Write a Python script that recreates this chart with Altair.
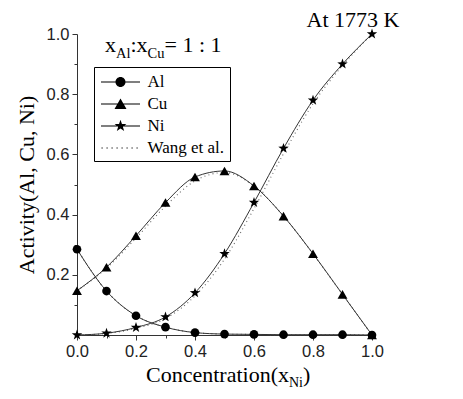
import altair as alt
import pandas as pd

# ---------------- data ----------------
x_vals = [0.0, 0.1, 0.2, 0.3, 0.4, 0.5, 0.6, 0.7, 0.8, 0.9, 1.0]
al_vals = [0.285, 0.146, 0.064, 0.026, 0.008, 0.003, 0.002, 0.001, 0.001, 0.001, 0.0]
cu_vals = [0.147, 0.225, 0.330, 0.440, 0.525, 0.545, 0.495, 0.395, 0.270, 0.135, 0.0]
ni_vals = [0.0, 0.006, 0.025, 0.060, 0.140, 0.270, 0.440, 0.620, 0.780, 0.900, 1.0]
wang_al = [0.285, 0.146, 0.064, 0.026, 0.008, 0.003, 0.002, 0.001, 0.001, 0.001, 0.0]
wang_cu = [0.147, 0.222, 0.322, 0.428, 0.512, 0.540, 0.495, 0.395, 0.270, 0.135, 0.0]
wang_ni = [0.0, 0.005, 0.022, 0.055, 0.130, 0.252, 0.420, 0.602, 0.768, 0.895, 1.0]
series = ["Al", "Cu", "Ni"]
legend_items = ["Al", "Cu", "Ni", "Wang et al."]
x_ticks = [0.0, 0.1, 0.2, 0.3, 0.4, 0.5, 0.6, 0.7, 0.8, 0.9, 1.0]
y_ticks = [0.1, 0.2, 0.3, 0.4, 0.5, 0.6, 0.7, 0.8, 0.9, 1.0]
temp_label = "At 1773 K"
ratio_parts = ["x", "Al", ":x", "Cu", "= 1 : 1"]
xtitle_parts = ["Concentration(x", "Ni", ")"]
ytitle = "Activity(Al, Cu, Ni)"

calc = pd.DataFrame({
    "x": x_vals * 3,
    "y": al_vals + cu_vals + ni_vals,
    "series": sum([[s] * len(x_vals) for s in series], []),
})
wang = pd.DataFrame({
    "x": x_vals * 3,
    "y": wang_al + wang_cu + wang_ni,
    "series": sum([[s] * len(x_vals) for s in series], []),
})

# ---------------- styling ----------------
SERIF = "Liberation Serif"
SANS = "Liberation Sans"
W, H = 295, 301

star_pts = [(0, -1), (0.235, -0.324), (0.951, -0.309), (0.380, 0.124), (0.588, 0.809),
            (0, 0.4), (-0.588, 0.809), (-0.380, 0.124), (-0.951, -0.309), (-0.235, -0.324)]


def star_path(s):
    return "M" + "L".join(f"{px*s:.3f},{py*s:.3f}" for px, py in star_pts) + "Z"


line_seg = "M-1.95,-0.05H1.95V0.05H-1.95Z"
leg_circle = line_seg + "M0.5,0A0.5,0.5,0,1,1,-0.5,0A0.5,0.5,0,1,1,0.5,0Z"
leg_tri = line_seg + "M0,-0.55L0.6,0.5L-0.6,0.5Z"
leg_star = line_seg + star_path(0.62)
leg_dots = "".join(f"M{-1.9 + 0.5*i:.2f},-0.06h0.12v0.12h-0.12Z" for i in range(8))

xs = alt.Scale(domain=[0, 1], nice=False, zero=False)
ys = alt.Scale(domain=[0, 1], nice=False, zero=False)

minor_tick = {"condition": {"test": "round(datum.value*10) % 2 == 1", "value": 3}, "value": 5}

x_axis = alt.Axis(values=x_ticks, title=None, grid=False, labelFlush=False,
                  labelExpr="round(datum.value*10) % 2 == 1 ? '' : format(datum.value, '.1f')",
                  labelFont=SANS, labelFontSize=16.5, labelColor="#222", labelPadding=3,
                  tickSize=minor_tick, tickColor="#333", domainColor="#333", labelOverlap=False)
y_axis = alt.Axis(values=y_ticks, title=ytitle, grid=False, labelFlush=False,
                  labelExpr="round(datum.value*10) % 2 == 1 ? '' : format(datum.value, '.1f')",
                  labelFont=SANS, labelFontSize=16.5, labelColor="#222", labelPadding=3,
                  tickSize=minor_tick, tickColor="#333", domainColor="#333", labelOverlap=False,
                  titleFont=SERIF, titleFontSize=22, titleFontWeight="normal", titleColor="black",
                  titlePadding=8)

base_x = alt.X("x:Q", scale=xs, axis=x_axis)
base_y = alt.Y("y:Q", scale=ys, axis=y_axis)

wang_lines = alt.Chart(wang).mark_line(
    color="#666", strokeWidth=1.1, strokeDash=[1, 3.2], interpolate="monotone"
).encode(x=base_x, y=base_y, detail="series:N")

calc_lines = alt.Chart(calc).mark_line(
    color="#333", strokeWidth=1, interpolate="monotone"
).encode(x=base_x, y=base_y, detail="series:N")

points = alt.Chart(calc).mark_point(filled=True, color="black", opacity=1).encode(
    x=base_x, y=base_y,
    shape=alt.Shape("series:N", scale=alt.Scale(domain=series,
                    range=["circle", "triangle-up", star_path(1.0)]), legend=None),
    size=alt.Size("series:N", scale=alt.Scale(domain=series, range=[75, 120, 125]), legend=None),
)

legend_layer = alt.Chart(pd.DataFrame({"item": legend_items})).mark_point(
    filled=True, color="black", opacity=0
).encode(
    shape=alt.Shape("item:N", scale=alt.Scale(domain=legend_items,
                    range=[leg_circle, leg_tri, leg_star, leg_dots]),
                    legend=alt.Legend(title=None, orient="none", legendX=17, legendY=33,
                                      padding=5, strokeColor="black", fillColor="white",
                                      labelFont=SERIF, labelFontSize=17, labelColor="black",
                                      symbolSize=400, symbolOffset=11.5, labelOffset=17,
                                      rowPadding=4, symbolOpacity=1, symbolStrokeWidth=0,
                                      symbolFillColor="black", labelLimit=200)),
)


def text_layer(t, px, py, size, align="left"):
    return alt.Chart(pd.DataFrame({"t": [t]})).mark_text(
        font=SERIF, fontSize=size, color="black", align=align, baseline="alphabetic"
    ).encode(text="t:N", x=alt.value(px), y=alt.value(py))


texts = [text_layer(temp_label, 276, -7, 22, "center")]

# x_Al : x_Cu = 1 : 1  (main 22px, subscript 14.5px)
rx, rb = 28, 18
texts.append(text_layer(ratio_parts[0], rx, rb, 22))
texts.append(text_layer(ratio_parts[1], rx + 11, rb + 6, 14.5))
texts.append(text_layer(ratio_parts[2], rx + 25.5, rb, 22))
texts.append(text_layer(ratio_parts[3], rx + 42.6, rb + 6, 14.5))
texts.append(text_layer(ratio_parts[4], rx + 59.5, rb, 22))

# x title with subscript
tx, tb = 212, 348
texts.append(text_layer(xtitle_parts[0], tx, tb, 22, "right"))
texts.append(text_layer(xtitle_parts[1], tx, tb + 5, 14))
texts.append(text_layer(xtitle_parts[2], tx + 14, tb, 22))

chart = alt.layer(wang_lines, calc_lines, points, legend_layer, *texts).resolve_scale(
    shape="independent", size="independent"
).properties(
    width=W, height=H,
    padding={"left": 69, "top": 26, "right": 83, "bottom": 56},
    autosize="none",
    background="white",
).configure_view(stroke=None)

chart.save("out.html", embed_options={"renderer": "svg", "actions": False})
